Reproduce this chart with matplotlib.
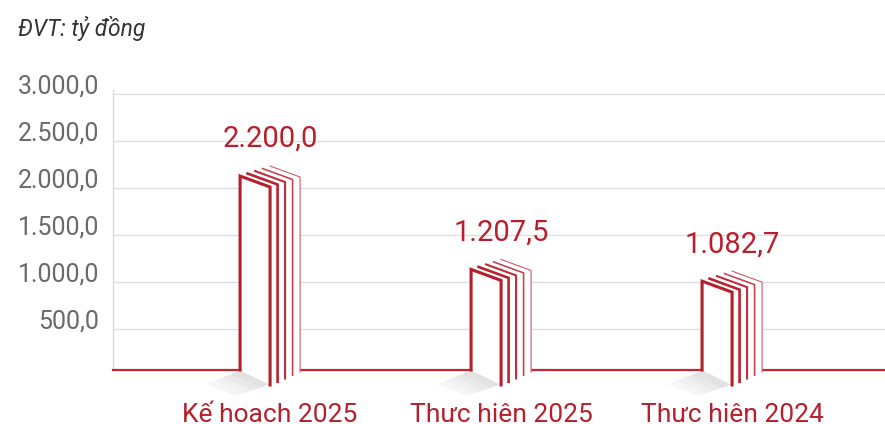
import matplotlib.pyplot as plt
from matplotlib.patches import Polygon

categories = ['Kế hoach 2025', 'Thưc hiên 2025', 'Thưc hiên 2024']
values = [2200.0, 1207.5, 1082.7]
value_labels = ['2.200,0', '1.207,5', '1.082,7']
yticks = [500, 1000, 1500, 2000, 2500, 3000]
ytick_labels = ['500,0', '1.000,0', '1.500,0', '2.000,0', '2.500,0', '3.000,0']

RED = '#b71f2c'
plt.rcParams['font.family'] = ['Roboto', 'DejaVu Sans']

W, H = 885, 424
fig = plt.figure(figsize=(W / 100, H / 100), dpi=100)
ax = fig.add_axes([113 / W, (H - 370) / H, (W - 113) / W, (370 - 90) / H])
XMIN, XMAX = -0.68, 2.662
YMIN, YMAX = 64, 3040
ax.set_xlim(XMIN, XMAX)
ax.set_ylim(YMIN, YMAX)

# pixel -> data unit helpers
sx = (W - 113) / (XMAX - XMIN)
sy = (370 - 90) / (YMAX - YMIN)
def px_x(p):
    return p / sx
def px_y(p):
    return p / sy

# grid + spines
ax.set_yticks(yticks, ytick_labels)
ax.set_xticks([])
ax.grid(axis='y', color='#dedede', lw=0.9)
ax.set_axisbelow(True)
ax.tick_params(axis='y', length=0, pad=10, labelsize=18, labelcolor='#6a6a6a')
for t in ax.get_yticklabels():
    t.set_verticalalignment('baseline')
for s in ['top', 'right']:
    ax.spines[s].set_visible(False)
ax.spines['left'].set_color('#d9d9d9')
ax.spines['left'].set_linewidth(0.9)
ax.spines['bottom'].set_color('#c22834')
ax.spines['bottom'].set_linewidth(1.6)

page_colors = ['#b51e2b', '#b9232f', '#bf2d3a', '#c63f4c', '#d25866']
page_widths = [2.2, 1.9, 1.5, 1.15, 0.8]
y0 = YMIN

for i, v in enumerate(values):
    back_top = v + px_y(3)
    tl = []
    for k in range(5):
        x_l = i - px_x(30) + px_x(7.5 * k)
        y_t = back_top - px_y(2.5 * (4 - k))
        tl.append((x_l, y_t))
    # floor shadow: rhombus fading away from the book
    top = (i - px_x(30), y0 - px_y(1))
    left = (i - px_x(64), y0 - px_y(14))
    bottom = (i - px_x(34), y0 - px_y(26))
    right = (i, y0 - px_y(14))
    for s, col in [(1.0, '#f6f6f6'), (0.75, '#f0f0f0'), (0.5, '#e9e9e9'), (0.28, '#e2e2e2')]:
        pts = [top,
               (top[0] + s * (left[0] - top[0]), top[1] + s * (left[1] - top[1])),
               (right[0] + s * (bottom[0] - right[0]), right[1] + s * (bottom[1] - right[1])),
               right]
        ax.add_patch(Polygon(pts, closed=True, fc=col, ec='none',
                             zorder=2.8, clip_on=False))
    # white body
    body = [(i - px_x(30), y0), tl[0], tl[4],
            (tl[4][0] + px_x(30), tl[4][1] - px_y(11)),
            (tl[4][0] + px_x(30), y0 - px_y(2)),
            (i, y0 - px_y(15))]
    ax.add_patch(Polygon(body, closed=True, fc='white', ec='none',
                         zorder=3, clip_on=False))
    # pages, back to front
    for k in range(4, -1, -1):
        x_l, y_t = tl[k]
        xs = [x_l, x_l + px_x(30), x_l + px_x(30)]
        ys = [y_t, y_t - px_y(11), y0 - px_y(15 - 3.25 * k)]
        if k == 0:
            xs = [x_l] + xs
            ys = [y0] + ys
        ax.plot(xs, ys, color=page_colors[k], lw=page_widths[k],
                solid_joinstyle='miter', zorder=4 + (4 - k) * 0.1, clip_on=False)
    ax.annotate(value_labels[i], (i, v), xytext=(0, 22 * 0.72),
                textcoords='offset points', ha='center', va='baseline',
                fontsize=21, color=RED)
    ax.text(i, -52 / 280, categories[i], transform=ax.get_xaxis_transform(),
            ha='center', va='baseline', fontsize=19, color=RED)

fig.text(18 / W, 1 - 36 / H, 'ĐVT: tỷ đồng', style='italic', fontsize=16.5,
         color='#333333', va='baseline')

fig.savefig('out.png', dpi=100)
